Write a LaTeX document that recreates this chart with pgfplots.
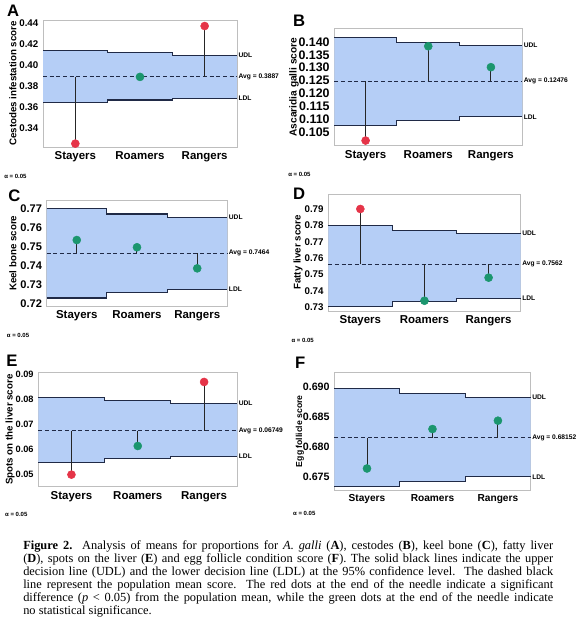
\documentclass[border=0pt]{standalone}
\usepackage{fontspec}
\setmainfont{Liberation Serif}
\setsansfont{Liberation Sans}
\usepackage{pgfplots}
\pgfplotsset{compat=1.18}

\definecolor{band}{RGB}{181,206,246}
\definecolor{dlcol}{RGB}{32,42,70}
\definecolor{sig}{RGB}{229,52,72}
\definecolor{nsig}{RGB}{27,150,110}
\definecolor{frame}{RGB}{190,190,190}

\newcommand\bsf[1]{\sffamily\bfseries\fontsize{#1}{#1}\selectfont}

\tikzset{lbl/.style={anchor=west, inner sep=1pt, font=\bsf{5}}}
\pgfplotsset{
  aom/.style={
    scale only axis, clip=false,
    xmin=-0.5, xmax=2.5,
    xtick={0,1,2}, xticklabels={Stayers,Roamers,Rangers},
    axis line style={frame, line width=0.5pt},
    tick style={draw=none},
    scaled y ticks=false,
    /pgf/number format/assume math mode=true,
    /pgf/number format/fixed, /pgf/number format/fixed zerofill,
    yticklabel style={font=\bsf{7.3}},
    xticklabel style={font=\bsf{8.6}},
  },
  % y label centred at a fixed distance left of the axis box
  ylab/.style={every axis y label/.style={at={(rel axis cs:0,0.5)}, xshift=#1,
      rotate=90, anchor=center, font=\bsf{7.3}}},
  dline/.style={const plot, dlcol, line width=0.8pt},
  avgline/.style={dlcol, dash pattern=on 3pt off 2pt, line width=0.7pt},
  needle/.style={black!85, line width=0.75pt},
  dot/.style={only marks, mark=*, mark size=3pt, mark options={draw=#1, fill=#1}},
  bandfill/.style={fill=band, draw=none},
}

\begin{document}
\begin{tikzpicture}
\useasboundingbox (0,0) rectangle (432.75pt,-480pt);

% ---------- A ----------
\begin{axis}[aom, at={(32.25pt,-110.25pt)}, width=145.5pt, height=95.25pt,
  ymin=0.3223, ymax=0.4426, ytick={0.34,0.36,0.38,0.40,0.42,0.44},
  /pgf/number format/precision=2, ylab=-22.5pt,
  ylabel={Cestodes infestation score}]
  \addplot[bandfill] coordinates {(-0.5,0.4135) (0.5,0.4135) (0.5,0.4116) (1.5,0.4116) (1.5,0.4091) (2.5,0.4091)
    (2.5,0.3684) (1.5,0.3684) (1.5,0.3668) (0.5,0.3668) (0.5,0.3642) (-0.5,0.3642)} -- cycle;
  \addplot[dline] coordinates {(-0.5,0.4135) (0.5,0.4116) (1.5,0.4091) (2.5,0.4091)};
  \addplot[dline] coordinates {(-0.5,0.3642) (0.5,0.3668) (1.5,0.3684) (2.5,0.3684)};
  \addplot[avgline] coordinates {(-0.5,0.3887) (2.5,0.3887)};
  \addplot[needle] coordinates {(0,0.3887) (0,0.3255)};
  \addplot[needle] coordinates {(2,0.3887) (2,0.4369)};
  \addplot[dot=sig] coordinates {(0,0.3255) (2,0.4369)};
  \addplot[dot=nsig] coordinates {(1,0.3887)};
  \node[lbl] at (axis cs:2.5,0.4091) {UDL};
  \node[lbl] at (axis cs:2.5,0.3887) {Avg = 0.3887};
  \node[lbl] at (axis cs:2.5,0.3684) {LDL};
\end{axis}

% ---------- B ----------
\begin{axis}[aom, at={(250.7pt,-109.3pt)}, width=141pt, height=88pt,
  ymin=0.0998, ymax=0.1452,
  ytick={0.105,0.110,0.115,0.120,0.125,0.130,0.135,0.140},
  /pgf/number format/precision=3, ylab=-30.2pt,
  yticklabel style={font=\bsf{9.3}},
  ylabel style={font=\bsf{7.6}},
  ylabel={Ascaridia galli score}]
  \addplot[bandfill] coordinates {(-0.5,0.1417) (0.5,0.1417) (0.5,0.1398) (1.5,0.1398) (1.5,0.1385) (2.5,0.1385)
    (2.5,0.1110) (1.5,0.1110) (1.5,0.1097) (0.5,0.1097) (0.5,0.1078) (-0.5,0.1078)} -- cycle;
  \addplot[dline] coordinates {(-0.5,0.1417) (0.5,0.1398) (1.5,0.1385) (2.5,0.1385)};
  \addplot[dline] coordinates {(-0.5,0.1078) (0.5,0.1097) (1.5,0.1110) (2.5,0.1110)};
  \addplot[avgline] coordinates {(-0.5,0.12476) (2.5,0.12476)};
  \addplot[needle] coordinates {(0,0.12476) (0,0.1018)};
  \addplot[needle] coordinates {(1,0.12476) (1,0.1383)};
  \addplot[needle] coordinates {(2,0.12476) (2,0.1302)};
  \addplot[dot=sig] coordinates {(0,0.1018)};
  \addplot[dot=nsig] coordinates {(1,0.1383) (2,0.1302)};
  \node[lbl] at (axis cs:2.5,0.1385) {UDL};
  \node[lbl] at (axis cs:2.5,0.12476) {Avg = 0.12476};
  \node[lbl] at (axis cs:2.5,0.1110) {LDL};
\end{axis}

% ---------- C ----------
\begin{axis}[aom, at={(35pt,-229.5pt)}, width=135.5pt, height=79pt,
  ymin=0.7186, ymax=0.774, ytick={0.72,0.73,0.74,0.75,0.76,0.77},
  /pgf/number format/precision=2, ylab=-25.3pt,
  yticklabel style={font=\bsf{8.3}},
  ylabel={Keel bone score}]
  \addplot[bandfill] coordinates {(-0.5,0.7698) (0.5,0.7698) (0.5,0.7670) (1.5,0.7670) (1.5,0.7651) (2.5,0.7651)
    (2.5,0.7274) (1.5,0.7274) (1.5,0.7256) (0.5,0.7256) (0.5,0.7228) (-0.5,0.7228)} -- cycle;
  \addplot[dline] coordinates {(-0.5,0.7698) (0.5,0.7670) (1.5,0.7651) (2.5,0.7651)};
  \addplot[dline] coordinates {(-0.5,0.7228) (0.5,0.7256) (1.5,0.7274) (2.5,0.7274)};
  \addplot[avgline] coordinates {(-0.5,0.7464) (2.5,0.7464)};
  \addplot[needle] coordinates {(0,0.7464) (0,0.7533)};
  \addplot[needle] coordinates {(1,0.7464) (1,0.7495)};
  \addplot[needle] coordinates {(2,0.7464) (2,0.7384)};
  \addplot[dot=nsig] coordinates {(0,0.7533) (1,0.7495) (2,0.7384)};
  \node[lbl] at (axis cs:2.5,0.7651) {UDL};
  \node[lbl] at (axis cs:2.5,0.7464) {Avg = 0.7464};
  \node[lbl] at (axis cs:2.5,0.7274) {LDL};
\end{axis}

% ---------- D ----------
\begin{axis}[aom, at={(246.2pt,-233.25pt)}, width=144.3pt, height=87.75pt,
  ymin=0.7275, ymax=0.7994, ytick={0.73,0.74,0.75,0.76,0.77,0.78,0.79},
  /pgf/number format/precision=2, ylab=-22.7pt,
  ylabel={Fatty liver score}]
  \addplot[bandfill] coordinates {(-0.5,0.7799) (0.5,0.7799) (0.5,0.7771) (1.5,0.7771) (1.5,0.7750) (2.5,0.7750)
    (2.5,0.7351) (1.5,0.7351) (1.5,0.7333) (0.5,0.7333) (0.5,0.7302) (-0.5,0.7302)} -- cycle;
  \addplot[dline] coordinates {(-0.5,0.7799) (0.5,0.7771) (1.5,0.7750) (2.5,0.7750)};
  \addplot[dline] coordinates {(-0.5,0.7302) (0.5,0.7333) (1.5,0.7351) (2.5,0.7351)};
  \addplot[avgline] coordinates {(-0.5,0.7562) (2.5,0.7562)};
  \addplot[needle] coordinates {(0,0.7562) (0,0.7902)};
  \addplot[needle] coordinates {(1,0.7562) (1,0.7338)};
  \addplot[needle] coordinates {(2,0.7562) (2,0.7480)};
  \addplot[dot=sig] coordinates {(0,0.7902)};
  \addplot[dot=nsig] coordinates {(1,0.7338) (2,0.7480)};
  \node[lbl] at (axis cs:2.5,0.7750) {UDL};
  \node[lbl] at (axis cs:2.5,0.7562) {Avg = 0.7562};
  \node[lbl] at (axis cs:2.5,0.7351) {LDL};
\end{axis}

% ---------- E ----------
\begin{axis}[aom, at={(28.7pt,-365pt)}, width=149.25pt, height=85.5pt,
  ymin=0.0452, ymax=0.0906, ytick={0.05,0.06,0.07,0.08,0.09},
  /pgf/number format/precision=2, ylab=-21.2pt,
  yticklabel style={font=\bsf{6.9}},
  ylabel={Spots on the liver score}]
  \addplot[bandfill] coordinates {(-0.5,0.0808) (0.5,0.0808) (0.5,0.0794) (1.5,0.0794) (1.5,0.0783) (2.5,0.0783)
    (2.5,0.0572) (1.5,0.0572) (1.5,0.0563) (0.5,0.0563) (0.5,0.0548) (-0.5,0.0548)} -- cycle;
  \addplot[dline] coordinates {(-0.5,0.0808) (0.5,0.0794) (1.5,0.0783) (2.5,0.0783)};
  \addplot[dline] coordinates {(-0.5,0.0548) (0.5,0.0563) (1.5,0.0572) (2.5,0.0572)};
  \addplot[avgline] coordinates {(-0.5,0.06749) (2.5,0.06749)};
  \addplot[needle] coordinates {(0,0.06749) (0,0.0500)};
  \addplot[needle] coordinates {(1,0.06749) (1,0.0614)};
  \addplot[needle] coordinates {(2,0.06749) (2,0.0869)};
  \addplot[dot=sig] coordinates {(0,0.0500) (2,0.0869)};
  \addplot[dot=nsig] coordinates {(1,0.0614)};
  \node[lbl] at (axis cs:2.5,0.0783) {UDL};
  \node[lbl] at (axis cs:2.5,0.06749) {Avg = 0.06749};
  \node[lbl] at (axis cs:2.5,0.0572) {LDL};
\end{axis}

% ---------- F ----------
\begin{axis}[aom, at={(250.7pt,-367.5pt)}, width=147.3pt, height=88.3pt,
  ymin=0.6728, ymax=0.6925, ytick={0.675,0.680,0.685,0.690},
  /pgf/number format/precision=3, ylab=-25.7pt,
  yticklabel style={font=\bsf{8}},
  xticklabel style={font=\bsf{7.6}},
  ylabel style={font=\bsf{6.5}},
  ylabel={Egg follicle score}]
  \addplot[bandfill] coordinates {(-0.5,0.6898) (0.5,0.6898) (0.5,0.6890) (1.5,0.6890) (1.5,0.6883) (2.5,0.6883)
    (2.5,0.6750) (1.5,0.6750) (1.5,0.6743) (0.5,0.6743) (0.5,0.6734) (-0.5,0.6734)} -- cycle;
  \addplot[dline] coordinates {(-0.5,0.6898) (0.5,0.6890) (1.5,0.6883) (2.5,0.6883)};
  \addplot[dline] coordinates {(-0.5,0.6734) (0.5,0.6743) (1.5,0.6750) (2.5,0.6750)};
  \addplot[avgline] coordinates {(-0.5,0.68152) (2.5,0.68152)};
  \addplot[needle] coordinates {(0,0.68152) (0,0.6764)};
  \addplot[needle] coordinates {(1,0.68152) (1,0.6830)};
  \addplot[needle] coordinates {(2,0.68152) (2,0.6844)};
  \addplot[dot=nsig] coordinates {(0,0.6764) (1,0.6830) (2,0.6844)};
  \node[lbl] at (axis cs:2.5,0.6883) {UDL};
  \node[lbl] at (axis cs:2.5,0.68152) {Avg = 0.68152};
  \node[lbl] at (axis cs:2.5,0.6750) {LDL};
\end{axis}

% panel letters
\begin{scope}[every node/.style={anchor=north west, inner sep=0pt, font=\bsf{12.5}}]
  \node at (5.2pt,-3.8pt) {A};
  \node at (219.7pt,-11.2pt) {B};
  \node at (6pt,-142.5pt) {C};
  \node at (219.7pt,-141pt) {D};
  \node at (4.5pt,-266.2pt) {E};
  \node at (221.2pt,-267.7pt) {F};
\end{scope}

% alpha notes
\begin{scope}[every node/.style={anchor=west, inner sep=0pt, font=\bsf{4.5}}]
  \node at (3pt,-132pt) {α = 0.05};
  \node at (216pt,-130.5pt) {α = 0.05};
  \node at (5pt,-251.2pt) {α = 0.05};
  \node at (218.5pt,-255pt) {α = 0.05};
  \node at (3.7pt,-385.5pt) {α = 0.05};
  \node at (219.7pt,-385.3pt) {α = 0.05};
\end{scope}

% caption
\node[anchor=north west, inner sep=0pt, text width=397.5pt, align=justify,
      font=\fontsize{9.3}{9.8}\selectfont] at (17.25pt,-405pt)
  {\hyphenpenalty=10000\relax
   \textbf{Figure 2.}\ \ Analysis of means for proportions for \textit{A.~galli} (\textbf{A}), cestodes (\textbf{B}), keel bone (\textbf{C}), fatty liver\linebreak
   (\textbf{D}), spots on the liver (\textbf{E}) and egg follicle condition score (\textbf{F}). The solid black lines indicate the upper\linebreak
   decision line (UDL) and the lower decision line (LDL) at the 95\% confidence level.\ \ The dashed black\linebreak
   line represent the population mean score. The red dots at the end of the needle indicate a significant\linebreak
   difference (\textit{p} < 0.05) from the population mean, while the green dots at the end of the needle indicate\linebreak
   no statistical significance.\par};
\end{tikzpicture}
\end{document}
